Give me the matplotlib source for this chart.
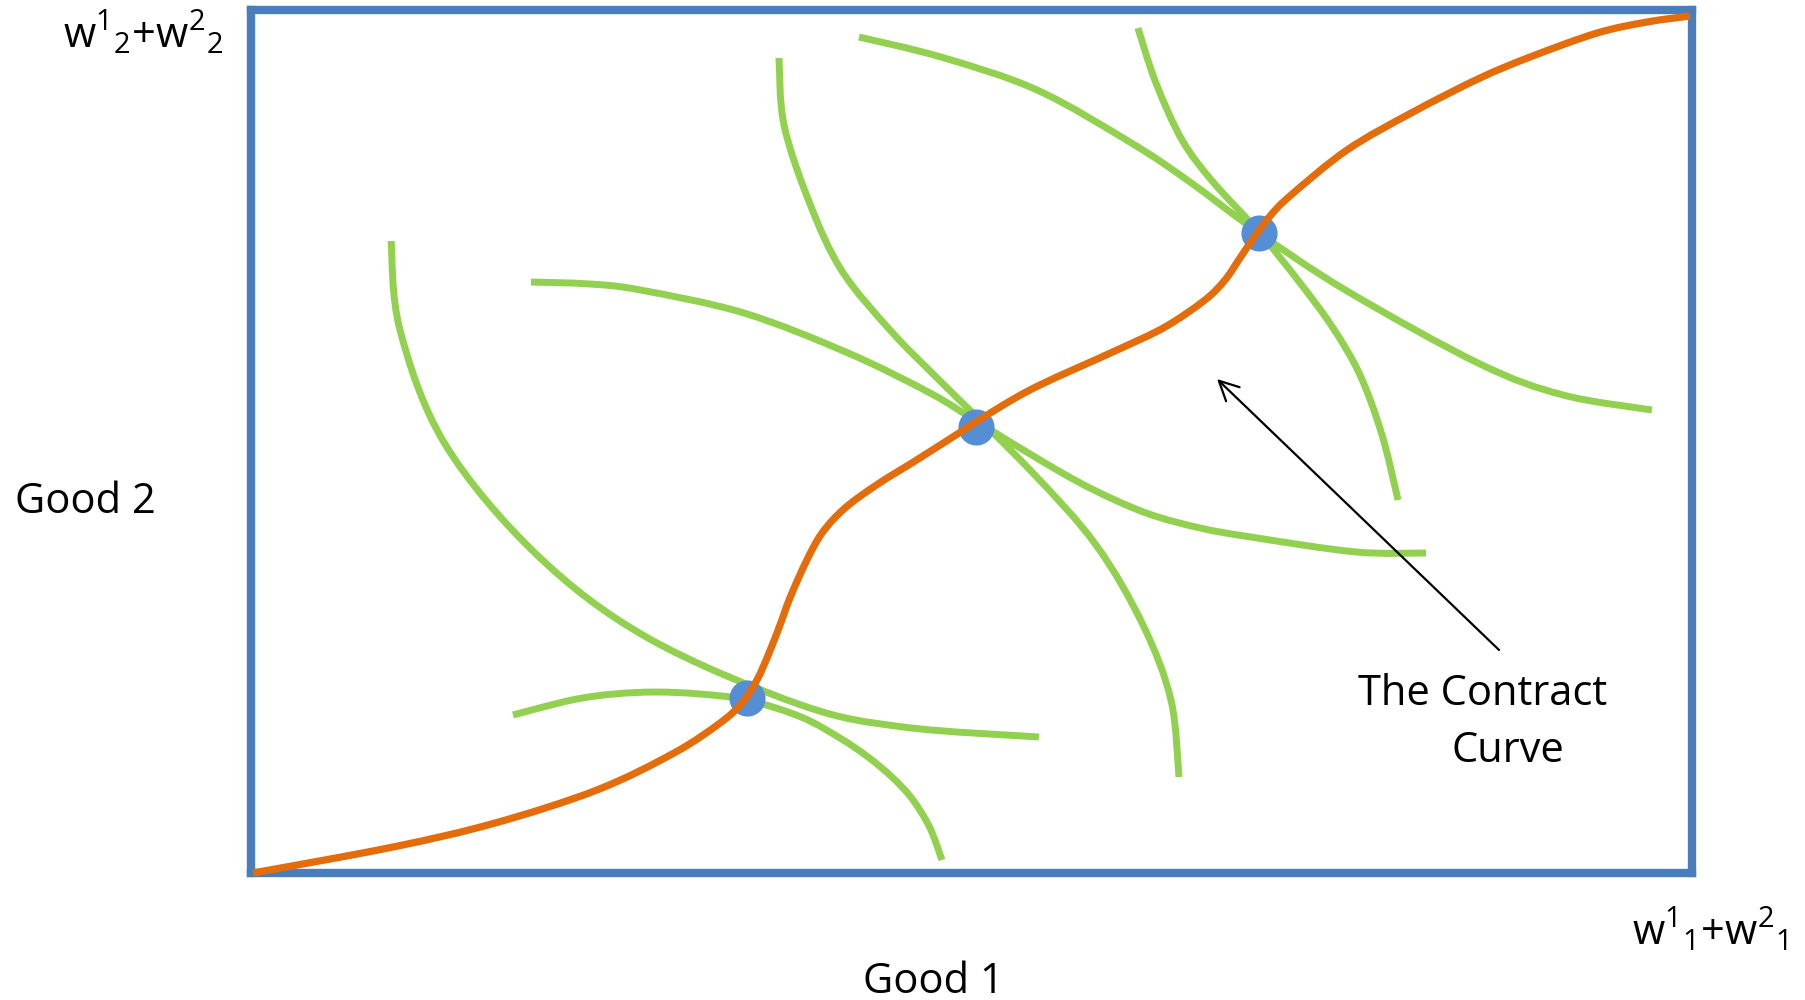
import numpy as np
import matplotlib.pyplot as plt
from matplotlib.path import Path
from matplotlib.patches import PathPatch

# Edgeworth box, both goods scaled to 0..100 of the box
contract_x = [0.14, 9.85, 16.93, 24.01, 29.35, 32.55, 34.07, 35.11, 35.95, 36.71, 37.40,
              38.51, 39.63, 41.22, 43.51, 46.08, 49.13, 51.98, 54.75, 60.10, 63.43, 66.20,
              67.59, 68.63, 69.67, 70.72, 72.10, 76.06, 80.64, 85.29, 88.76, 93.41, 96.88, 99.86]
contract_y = [0.0, 3.01, 5.79, 9.62, 13.90, 17.38, 19.70, 22.36, 25.49, 28.74, 31.87,
              36.04, 39.40, 42.29, 45.08, 47.74, 50.98, 54.00, 56.55, 60.60, 63.27, 66.40,
              68.71, 71.26, 73.81, 76.13, 78.45, 83.78, 88.18, 92.12, 94.55, 97.33, 98.61, 99.30]

# indifference curves (green)
curve_a_x = [18.18, 22.28, 25.19, 28.11, 31.16, 34.42, 38.17, 40.87, 42.82, 44.55, 45.94, 47.12, 47.95]
curve_a_y = [18.31, 20.05, 20.74, 20.97, 20.74, 20.05, 18.08, 15.64, 13.44, 11.01, 8.46, 5.21, 1.51]

curve_b_x = [9.72, 10.34, 13.46, 19.85, 27.55, 38.17, 45.25, 54.68]
curve_b_y = [73.23, 62.92, 49.71, 36.85, 27.23, 19.47, 16.92, 15.76]

curve_c_x = [19.43, 23.53, 27.00, 34.21, 41.43, 47.12, 50.31, 54.75, 58.22, 62.11, 65.86, 69.40, 76.68, 81.54]
curve_c_y = [68.48, 68.25, 67.56, 64.89, 60.26, 55.62, 52.38, 47.86, 44.61, 41.72, 39.98, 38.93, 37.20, 37.08]

curve_d_x = [36.64, 36.99, 38.79, 41.01, 44.41, 47.75, 54.06, 58.64, 61.90, 63.84, 64.40]
curve_d_y = [94.44, 86.67, 77.52, 69.76, 62.80, 57.13, 46.70, 38.01, 28.74, 20.05, 11.12]

curve_e_x = [42.19, 47.88, 54.55, 61.21, 65.16, 69.95, 76.06, 85.29, 91.05, 97.22]
curve_e_y = [96.87, 94.55, 90.73, 84.47, 80.07, 74.16, 67.44, 58.98, 55.39, 53.65]

curve_f_x = [61.55, 62.80, 64.61, 66.76, 69.95, 72.80, 75.09, 76.96, 78.49, 79.60]
curve_f_y = [97.91, 91.54, 84.94, 80.07, 74.28, 68.37, 63.15, 57.71, 50.75, 43.22]

# tangency points
point_x = [34.42, 50.31, 69.95]
point_y = [20.28, 51.68, 74.16]

arrow_tip = (67.04, 57.24)
arrow_tail = (86.61, 25.84)

GREEN = '#92D050'
ORANGE = '#E46C0A'
BOX = '#4A7EBB'
DOT = '#558ED5'


def smooth_path(xs, ys):
    # pass a bezier through the read points instead of straight segments
    pts = np.column_stack([xs, ys])
    verts = [pts[0]]
    codes = [Path.MOVETO]
    n = len(pts)
    for i in range(n - 1):
        p0 = pts[i - 1] if i > 0 else pts[i]
        p1 = pts[i]
        p2 = pts[i + 1]
        p3 = pts[i + 2] if i + 2 < n else p2
        verts += [p1 + (p2 - p0) / 6, p2 - (p3 - p1) / 6, p2]
        codes += [Path.CURVE4] * 3
    return Path(verts, codes)


plt.rcParams['font.family'] = ['Open Sans', 'DejaVu Sans']

fig = plt.figure(figsize=(18.05, 10), dpi=100)
ax = fig.add_axes([251 / 1805, 0.127, 1441 / 1805, 0.863])
ax.set_xlim(0, 100)
ax.set_ylim(0, 100)
ax.set_xticks([])
ax.set_yticks([])
for sp in ax.spines.values():
    sp.set_color(BOX)
    sp.set_linewidth(6)

curves = [(curve_a_x, curve_a_y), (curve_b_x, curve_b_y), (curve_c_x, curve_c_y),
          (curve_d_x, curve_d_y), (curve_e_x, curve_e_y), (curve_f_x, curve_f_y)]
for cx, cy in curves:
    ax.add_patch(PathPatch(smooth_path(cx, cy), fill=False, edgecolor=GREEN, lw=5,
                           capstyle='butt', zorder=2))

ax.plot(point_x, point_y, 'o', color=DOT, ms=26, mec='none', zorder=3)
ax.add_patch(PathPatch(smooth_path(contract_x, contract_y), fill=False, edgecolor=ORANGE,
                       lw=5.2, capstyle='butt', joinstyle='round', zorder=4, clip_on=False))

ax.annotate('', xy=arrow_tip, xytext=arrow_tail,
            arrowprops=dict(arrowstyle='->', lw=1.6, color='black', mutation_scale=35,
                            shrinkA=0, shrinkB=0))

fs = 30
fig.text(63 / 1805, 1 - 48 / 1000, r'$\mathregular{w^{1}{}_{2}{+}w^{2}{}_{2}}$', fontsize=fs,
         ha='left', va='baseline')
fig.text(1632 / 1805, 1 - 945 / 1000, r'$\mathregular{w^{1}{}_{1}{+}w^{2}{}_{1}}$', fontsize=fs,
         ha='left', va='baseline')
fig.text(15 / 1805, 1 - 513 / 1000, 'Good 2', fontsize=fs, ha='left', va='baseline')
fig.text(863 / 1805, 1 - 993 / 1000, 'Good 1', fontsize=fs, ha='left', va='baseline')
fig.text(1358 / 1805, 1 - 705 / 1000, 'The Contract', fontsize=fs, ha='left', va='baseline')
fig.text(1452 / 1805, 1 - 762 / 1000, 'Curve', fontsize=fs, ha='left', va='baseline')

fig.savefig('out.png', dpi=100)
